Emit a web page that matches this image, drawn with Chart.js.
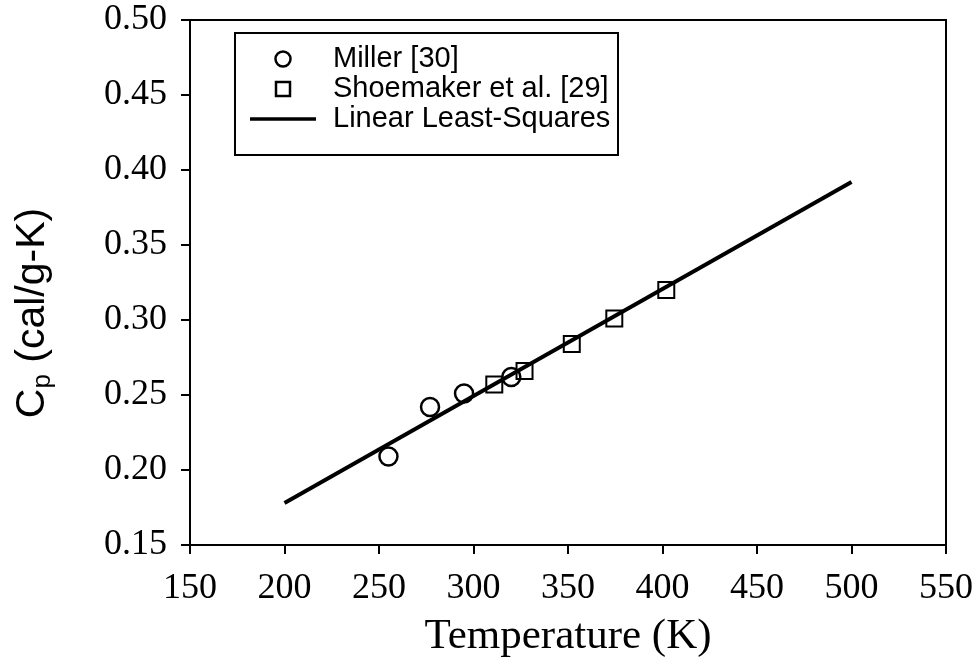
<!DOCTYPE html>
<html>
<head>
<meta charset="utf-8">
<script src="https://cdn.jsdelivr.net/npm/chart.js@4"></script>
<style>
  html, body { margin: 0; padding: 0; background: #fff; }
  #wrap { width: 974px; height: 658px; }
</style>
</head>
<body>
<div id="wrap"><canvas id="myChart" width="974" height="658"></canvas></div>
<script>
// data
const millerT = [255, 277, 295, 320];
const millerCp = [0.209, 0.242, 0.251, 0.262];
const shoemakerT = [311, 327, 352, 374.5, 402];
const shoemakerCp = [0.257, 0.266, 0.284, 0.301, 0.320];
const fitT = [200, 500];
const fitCp = [0.178, 0.392];
const xTicks = [150, 200, 250, 300, 350, 400, 450, 500, 550];
const yTicks = [0.15, 0.20, 0.25, 0.30, 0.35, 0.40, 0.45, 0.50];

const serif = '"Liberation Serif", "Times New Roman", serif';
const sans = '"Liberation Sans", Arial, sans-serif';

function toPoints(xs, ys) {
    return xs.map((x, i) => ({ x: x, y: ys[i] }));
}

// frame, axis titles and the boxed legend
const extras = {
    id: 'extras',
    afterDraw(chart) {
        const ctx = chart.ctx;
        const a = chart.chartArea;
        ctx.save();
        ctx.strokeStyle = '#000';
        ctx.lineWidth = 2;
        ctx.beginPath();
        ctx.moveTo(a.left, a.top);
        ctx.lineTo(a.right, a.top);
        ctx.lineTo(a.right, a.bottom);
        ctx.stroke();

        // x title
        ctx.fillStyle = '#000';
        ctx.font = '43px ' + serif;
        ctx.textAlign = 'center';
        ctx.textBaseline = 'alphabetic';
        ctx.fillText('Temperature (K)', (a.left + a.right) / 2, 648);

        // y title with subscript
        ctx.save();
        ctx.translate(44, 313);
        ctx.rotate(-Math.PI / 2);
        const big = '41px ' + sans, small = '26px ' + sans;
        ctx.font = big;
        const wC = ctx.measureText('C').width;
        const wRest = ctx.measureText(' (cal/g-K)').width;
        ctx.font = small;
        const wP = ctx.measureText('p').width;
        let x0 = -(wC + wP + wRest) / 2;
        ctx.textAlign = 'left';
        ctx.font = big;
        ctx.fillText('C', x0, 0);
        ctx.font = small;
        ctx.fillText('p', x0 + wC, 6);
        ctx.font = big;
        ctx.fillText(' (cal/g-K)', x0 + wC + wP, 0);
        ctx.restore();

        // legend
        const lx = 235, ly = 33, lw = 383, lh = 122;
        ctx.lineWidth = 2;
        ctx.strokeRect(lx, ly, lw, lh);
        const ds = chart.data.datasets;
        const rows = [59, 89, 119];
        ctx.font = '29px ' + sans;
        ctx.textAlign = 'left';
        ctx.textBaseline = 'middle';
        ds.forEach((d, i) => {
            const y = rows[i];
            ctx.lineWidth = 2.5;
            if (d.pointStyle === 'circle' && d.showLine === false) {
                ctx.beginPath();
                ctx.arc(283, y, 7.5, 0, Math.PI * 2);
                ctx.stroke();
            } else if (d.pointStyle === 'rect') {
                ctx.strokeRect(276, y - 7, 14, 14);
            } else {
                ctx.lineWidth = 3.5;
                ctx.beginPath();
                ctx.moveTo(250, y);
                ctx.lineTo(316, y);
                ctx.stroke();
            }
            ctx.fillText(d.label, 333, y);
        });
        ctx.restore();
    }
};

const ctx = document.querySelector('#myChart').getContext('2d');
const myChart = new Chart(ctx, {
    type: 'scatter',
    data: {
        datasets: [
            {
                label: 'Miller [30]',
                data: toPoints(millerT, millerCp),
                showLine: false,
                pointStyle: 'circle',
                pointRadius: 9,
                pointBorderWidth: 2.5,
                borderColor: '#000',
                backgroundColor: 'rgba(0,0,0,0)',
                order: 1
            },
            {
                label: 'Shoemaker et al. [29]',
                data: toPoints(shoemakerT, shoemakerCp),
                showLine: false,
                pointStyle: 'rect',
                pointRadius: 11.3,
                pointBorderWidth: 2,
                borderColor: '#000',
                backgroundColor: 'rgba(0,0,0,0)',
                order: 0
            },
            {
                label: 'Linear Least-Squares',
                data: toPoints(fitT, fitCp),
                showLine: true,
                pointRadius: 0,
                borderColor: '#000',
                borderWidth: 4,
                order: 2
            }
        ]
    },
    options: {
        responsive: false,
        animation: false,
        layout: { padding: { left: 0, right: 28, top: 20, bottom: 0 } },
        plugins: {
            legend: { display: false },
            tooltip: { enabled: false }
        },
        scales: {
            x: {
                type: 'linear',
                min: 150,
                max: 550,
                afterFit(scale) {
                    scale.height = 113;
                    scale.paddingLeft = 0;
                    scale.paddingRight = 0;
                },
                afterBuildTicks(scale) { scale.ticks = xTicks.map(v => ({ value: v })); },
                grid: { drawOnChartArea: false, drawTicks: true, tickLength: 9, color: '#000', lineWidth: 2 },
                border: { display: true, color: '#000', width: 2 },
                ticks: { color: '#000', padding: 13, font: { family: serif, size: 36 }, maxRotation: 0 }
            },
            y: {
                min: 0.15,
                max: 0.50,
                afterFit(scale) {
                    scale.width = 190;
                    scale.paddingTop = 0;
                    scale.paddingBottom = 0;
                },
                afterBuildTicks(scale) { scale.ticks = yTicks.map(v => ({ value: v })); },
                grid: { drawOnChartArea: false, drawTicks: true, tickLength: 9, color: '#000', lineWidth: 2 },
                border: { display: true, color: '#000', width: 2 },
                ticks: {
                    color: '#000',
                    padding: 14,
                    font: { family: serif, size: 36 },
                    callback: (v) => Number(v).toFixed(2)
                }
            }
        }
    },
    plugins: [extras]
});
</script>
</body>
</html>
